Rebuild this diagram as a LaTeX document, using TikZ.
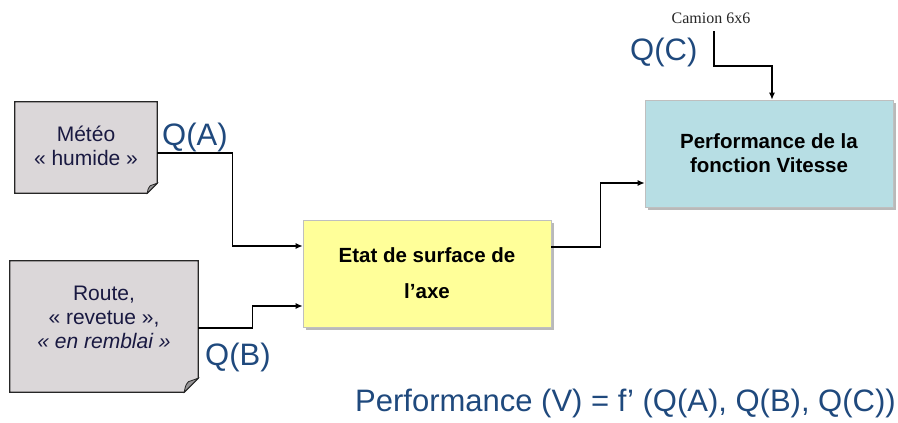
\documentclass[tikz,border=0pt]{standalone}
\usepackage{fontspec}
\setmainfont{Liberation Sans}
\newfontfamily\camfont{Liberation Serif}
\usetikzlibrary{arrows.meta,shadows}
\definecolor{qblue}{RGB}{31,73,125}
\definecolor{notegray}{RGB}{219,215,217}
\definecolor{foldgray}{RGB}{150,148,150}
\definecolor{boxyellow}{RGB}{255,255,153}
\definecolor{boxblue}{RGB}{183,222,228}
\definecolor{notetext}{RGB}{25,25,65}
\tikzset{
  notebox/.style={fill=notegray, draw=none, inner sep=0pt, align=center, text=notetext, font=\fontsize{21}{24}\selectfont},
  outline/.style={draw=black!85, line width=1.2pt},
  mainbox/.style={draw=black!25, line width=0.6pt, inner sep=0pt, align=center, font=\bfseries, drop shadow={shadow xshift=3pt, shadow yshift=-3pt, opacity=0.55}},
  conn/.style={draw=black, line width=1.3pt, -{Latex[length=7pt,width=6pt]}},
  qlabel/.style={text=qblue, font=\fontsize{31}{36}\selectfont, inner sep=0pt, anchor=base west},
}
\newcommand\foldoutline[2]{%
  \fill[notegray] (#1.north west) -- (#1.north east) -- ([yshift=#2]#1.south east) -- ([xshift=-#2]#1.south east) -- (#1.south west) -- cycle;
  \draw[outline] (#1.north west) -- (#1.north east) -- ([yshift=#2]#1.south east) -- ([xshift=-#2]#1.south east) -- (#1.south west) -- cycle;
  \filldraw[outline, line width=0.8pt, fill=foldgray] ([xshift=-#2]#1.south east) .. controls ([xshift=-0.9*#2, yshift=0.5*#2]#1.south east) .. ([xshift=-0.7*#2, yshift=0.75*#2]#1.south east) -- ([yshift=#2]#1.south east) -- cycle;
}
\begin{document}
\begin{tikzpicture}[x=1pt,y=-1pt]
\useasboundingbox (0,0) rectangle (898,423);

% note boxes
\node[notebox, minimum width=142pt, minimum height=91pt, fill=none] (meteo) at (86,147.5) {};
\foldoutline{meteo}{10pt}
\node[notebox, anchor=center, fill=none] (meteotext) at (86,146) {Météo\\« humide »};

\node[notebox, minimum width=188pt, minimum height=131pt, fill=none] (route) at (104,326.5) {};
\foldoutline{route}{14pt}
\node[notebox, anchor=center, fill=none] (routetext) at (104,317) {Route,\\« revetue »,\\\textit{« en remblai »}};

% main boxes
\node[mainbox, fill=boxyellow, minimum width=248pt, minimum height=107pt, font=\bfseries\fontsize{20.5}{36}\selectfont] (etat) at (427,273.5) {Etat de surface de\\l’axe};
\node[mainbox, fill=boxblue, minimum width=248pt, minimum height=107pt, font=\bfseries\fontsize{20.5}{24}\selectfont] (perf) at (769,153.5) {Performance de la\\fonction Vitesse};

% labels
\node[qlabel] (qa) at (162,145) {Q(A)};
\node[qlabel] (qb) at (205,365) {Q(B)};
\node[qlabel] (qc) at (630,60) {Q(C)};
\node[inner sep=0pt, font=\camfont\fontsize{16}{18}\selectfont, text=black!85] (camion) at (711,18) {Camion 6x6};
\coordinate (cstart) at (714,31);
\node[qlabel] (formula) at (355,411) {Performance (V) = f’ (Q(A), Q(B), Q(C))};

% connectors
\draw[conn] ([yshift=-5.5pt]meteo.east) -- ++(75,0) |- ([yshift=27.5pt]etat.west);
\draw[conn] ([yshift=-1.5pt]route.east) -- ++(54,0) |- ([yshift=-32.5pt]etat.west);
\draw[conn] ([yshift=26.5pt]etat.east) -- ++(49,0) |- ([yshift=-29.5pt]perf.west);
\draw[conn] (cstart) |- (772,66) -- ([xshift=3pt]perf.north);
\end{tikzpicture}
\end{document}
